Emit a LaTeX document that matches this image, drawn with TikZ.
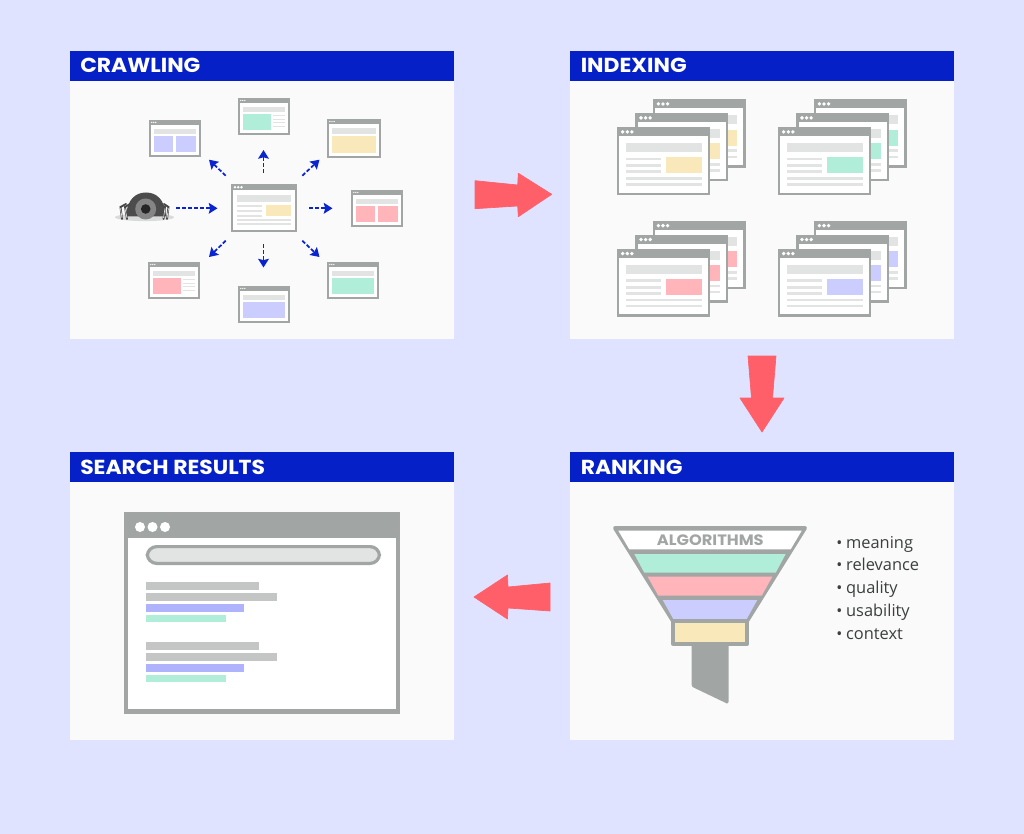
\documentclass[tikz,border=0pt]{standalone}
\usepackage{fontspec}
\setmainfont{Open Sans}
\newfontfamily\headfont{Poppins}[BoldFont=Poppins Bold,BoldFeatures={FakeStretch=1.08}]
\usetikzlibrary{arrows.meta}
\definecolor{pagebg}{HTML}{E0E3FF}
\definecolor{panelbg}{HTML}{FAFAFA}
\definecolor{headblue}{HTML}{0420C6}
\definecolor{framegrey}{HTML}{A1A6A5}
\definecolor{lightbar}{HTML}{E2E3E3}
\definecolor{groundgrey}{HTML}{D9DBDB}
\definecolor{midbar}{HTML}{C4C5C5}
\definecolor{cgreen}{HTML}{B0EEDA}
\definecolor{cyellow}{HTML}{F9E8BA}
\definecolor{cpink}{HTML}{FFB5BA}
\definecolor{clilac}{HTML}{CBCDFF}
\definecolor{cblue}{HTML}{AEB3FB}
\definecolor{cred}{HTML}{FF5F69}
\definecolor{arrowblue}{HTML}{0A24D0}
\definecolor{txtdark}{HTML}{3C3F3F}
\tikzset{
  x=0.75pt,y=-0.75pt,
  headtext/.style={anchor=base west,inner sep=0,text=white,font=\headfont\bfseries\fontsize{15.2}{17}\selectfont},
  listtext/.style={anchor=base west,inner sep=0,text=txtdark,font=\fontsize{12.3}{15}\selectfont},
  crawlarrow/.style={draw=arrowblue,line width=1.3pt,dash pattern=on 3pt off 1.5pt,-{Stealth[length=6.5pt,width=8pt,inset=1pt,sep=0pt]}},
  bigarrow/.style={fill=cred,draw=cred,line width=0.5pt,line join=round},
}
% window drawn in a 52x37 design box
\newcommand{\smallframe}[5]{%
  \begin{scope}[shift={(#1,#2)},xscale=#3/52,yscale=#4/37]
    \fill[framegrey] (0,0) rectangle (52,37);
    \fill[white] (1.8,4.8) rectangle (50.2,35.2);
    \foreach \dx in {2.8,4.8,6.8}{\fill[white] (\dx,2.4) circle[radius=0.7];}
    \fill[lightbar] (5,9) rectangle (47,14);
    #5
  \end{scope}}
\newcommand{\boxestwo}[1]{\fill[#1] (5,16.3) rectangle (24.3,32);\fill[#1] (27.3,16.3) rectangle (47,32);}
\newcommand{\boxwide}[1]{\fill[#1] (5,16.3) rectangle (47,32);}
\newcommand{\boxline}[1]{\fill[#1] (5,16.3) rectangle (33,32);
  \foreach \ly in {17,20.6,24.3,28}{\fill[lightbar] (35,\ly) rectangle (47,\ly+1.2);}}
% page window drawn in a 93x68 design box
\newcommand{\pagewin}[5]{%
  \begin{scope}[shift={(#1,#2)},xscale=#3/93,yscale=#4/68]
    \fill[framegrey] (0,0) rectangle (93,68);
    \fill[white] (2.4,8.8) rectangle (90.6,65.6);
    \foreach \dx in {5.7,10.3,14.9}{\fill[white] (\dx,4.6) circle[radius=1.9];}
    \fill[lightbar] (8.7,16) rectangle (84.7,25);
    \foreach \ly in {30.4,36.9,43.3}{\fill[lightbar] (8.7,\ly) rectangle (44,\ly+2.8);}
    \foreach \ly in {49.9,55.9}{\fill[lightbar] (8.7,\ly) rectangle (84.7,\ly+2.8);}
    \fill[#5] (49.3,30.3) rectangle (84.7,46);
  \end{scope}}
\newcommand{\pagestack}[3]{%
  \pagewin{#1+35.7}{#2-28}{93}{68.4}{#3}
  \pagewin{#1+18.3}{#2-14}{93}{67.7}{#3}
  \pagewin{#1}{#2}{93}{67.7}{#3}}
\begin{document}
\begin{tikzpicture}
\useasboundingbox (0,0) rectangle (1024,834);
\fill[pagebg] (0,0) rectangle (1024,834);
% panels
\foreach \px/\py in {70/51,570/51,70/452,570/452}{
  \fill[panelbg] (\px,\py) rectangle (\px+383.7,\py+288);
  \fill[headblue] (\px,\py) rectangle (\px+383.7,\py+30);
}
\node[headtext] (tcrawl) at (80,73) {\textbf{CRAWLING}};
\node[headtext] (tindex) at (580.5,73) {\textbf{INDEXING}};
\node[headtext] (tsearch) at (80,474.2) {\textbf{SEARCH RESULTS}};
\node[headtext] (trank) at (580.5,474.2) {\textbf{RANKING}};
% crawling windows
\smallframe{149}{120}{52}{37}{\boxestwo{clilac}}
\smallframe{238}{98}{52}{37}{\boxline{cgreen}}
\smallframe{327}{119}{54}{39}{\boxwide{cyellow}}
\smallframe{351}{190}{52}{37}{\boxestwo{cpink}}
\smallframe{148}{262}{52}{37}{\boxline{cpink}}
\smallframe{238}{286}{52}{37}{\boxwide{clilac}}
\smallframe{327}{262}{52}{37}{\boxwide{cgreen}}
\pagewin{231}{184}{66}{48}{cyellow}
% spider
\fill[groundgrey] (144.5,217.3) ellipse[x radius=29.5,y radius=3.8];
\fill[black!70] (126,216.5) .. controls (127,199) and (136,192.5) .. (146,192.5) .. controls (156,192.5) and (165,199) .. (166,216.5) -- cycle;
\foreach \lx/\lb/\lc in {126/120.5/122,130/125/127,160/165/163.5,164/168.5/167}{
  \draw[black!72,line width=1.4pt,line cap=round] (\lx,204) -- (\lb,207) -- (\lc,219);
  \draw[white,line width=0.4pt] (\lb,208.5) -- (\lc,218);
}
\fill[black!48] (145.7,209) circle[radius=10.5];
\fill[black!85] (145.7,209) circle[radius=4.8];
% crawl arrows
\coordinate (sa) at (176,208.3); \coordinate (sb) at (217.5,208.3);
\coordinate (ra) at (309.3,208.3); \coordinate (rb) at (332.5,208.3);
\coordinate (ua) at (263.5,172.7); \coordinate (ub) at (263.5,150);
\coordinate (da) at (263.5,244.3); \coordinate (db) at (263.5,267.5);
\coordinate (ula) at (225.7,175.7); \coordinate (ulb) at (209,159.7);
\coordinate (ura) at (302.3,175.7); \coordinate (urb) at (319.5,159.7);
\coordinate (lla) at (225.7,240.7); \coordinate (llb) at (209,257);
\coordinate (lra) at (302.3,240.7); \coordinate (lrb) at (319.5,257);
\foreach \p/\q in {sa/sb,ra/rb,ula/ulb,ura/urb,lla/llb,lra/lrb,ua/ub,da/db}{\draw[crawlarrow] (\p) -- (\q);}
% indexing stacks
\pagestack{617}{127.3}{cyellow}
\pagestack{778}{127.3}{cgreen}
\pagestack{617}{249}{cpink}
\pagestack{778}{249}{clilac}
% big arrows
\path[bigarrow] (475,180.7) -- (517.7,185) -- (518.3,173.3) -- (551.7,194.3) -- (518.3,216.7) -- (517.7,206) -- (475,208.7) -- cycle;
\path[bigarrow] (748,356) -- (776,356) -- (772.5,398) -- (784,398) -- (762,432) -- (740,398) -- (751.5,398) -- cycle;
\path[bigarrow] (550,583) -- (508,587) -- (507.5,575) -- (474,597) -- (507.5,619) -- (508,608) -- (550,611) -- cycle;
% search window
\fill[framegrey] (123.7,512.3) rectangle (400.3,714);
\fill[white] (128.3,538.3) rectangle (395.7,709.3);
\foreach \dx in {140,152.5,165}{\fill[white] (\dx,527) circle[radius=5];}
\draw[framegrey,fill=lightbar,line width=2.4pt,rounded corners=7pt] (147.3,546.6) rectangle (379.5,563.4);
\foreach \ty/\tx/\tc in {582.3/259/midbar,593.3/277.3/midbar,604.2/244/cblue,615/225.7/cgreen,642.3/259/midbar,653.3/277.3/midbar,664.3/244/cblue,675/225.7/cgreen}{
  \fill[\tc] (146.3,\ty) rectangle (\tx,\ty+7.4);
}
% funnel
\fill[framegrey] (691.7,640) -- (728.7,640) -- (728.7,702) -- (727,703.5) -- (692.5,687) -- (691.7,685) -- cycle;
\filldraw[framegrey,line width=3pt,line join=round] (615,528) -- (805,528) -- (747,621) -- (673,621) -- cycle;
\fill[white] (618.3,530.7) -- (801.7,530.7) -- (790.7,549.3) -- (629.3,549.3) -- cycle;
\fill[cgreen] (634.3,554) -- (785.7,554) -- (775.7,572.7) -- (644.3,572.7) -- cycle;
\fill[cpink] (647.7,576.7) -- (772.3,576.7) -- (761.7,595.7) -- (658.3,595.7) -- cycle;
\fill[clilac] (662.7,600) -- (757.3,600) -- (746.7,619) -- (673.3,619) -- cycle;
\filldraw[framegrey,fill=cyellow,line width=3pt,line join=round] (673,621.3) rectangle (747.3,643.7);
\node[anchor=center,inner sep=0,text=framegrey,font=\headfont\bfseries\fontsize{11.3}{13}\selectfont] (talgo) at (710.3,540.3) {\textbf{ALGORITHMS}};
% list
\foreach \yy/\itemword in {548.3/meaning,570.7/relevance,593.3/quality,616.3/usability,639/context}{
  \node[listtext] at (836,\yy) {{\fontsize{12}{12}\selectfont\raisebox{0pt}{•}}\hspace{2.9pt}\itemword};
}
\end{tikzpicture}
\end{document}
